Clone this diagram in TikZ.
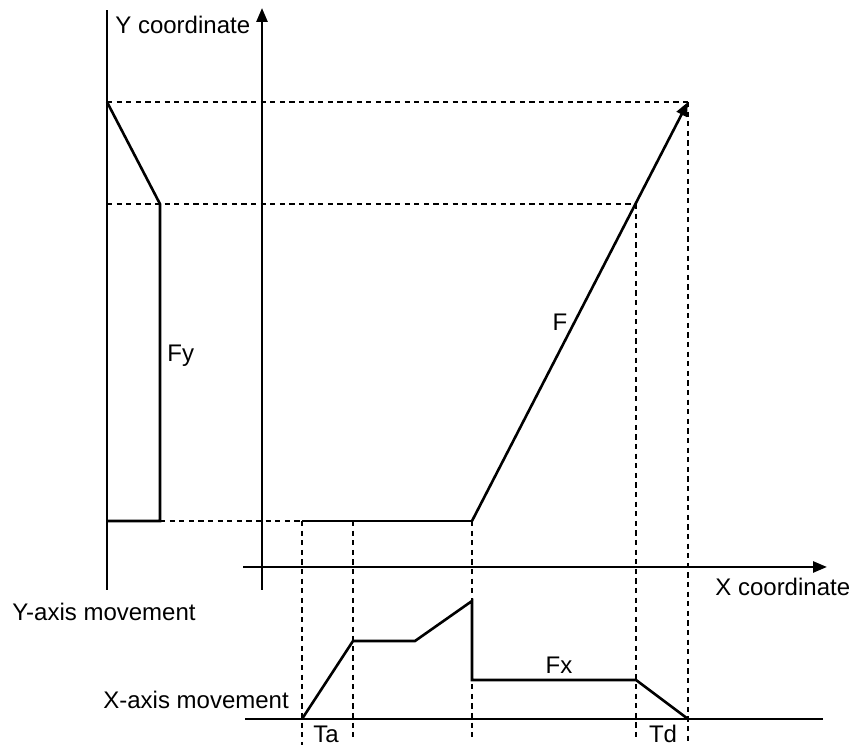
\documentclass[tikz,border=0pt]{standalone}
\usepackage{fontspec}
\setmainfont{Liberation Sans}
\usepackage{tikz}
\usetikzlibrary{arrows.meta}
\tikzset{
  axis/.style={line width=1.3pt, -{Triangle[length=7pt, width=5.5pt]}},
  plain/.style={line width=1.3pt},
  curve/.style={line width=1.3pt, line join=miter},
  guide/.style={line width=0.75pt, dash pattern=on 2.6pt off 2.2pt},
  lbl/.style={font=\fontsize{12}{14}\selectfont, inner sep=0pt}
}

\begin{document}
\begin{tikzpicture}[x=0.5pt, y=0.5pt]
  \useasboundingbox (0,0) rectangle (850,747);

  % key points
  \coordinate (tl) at (107,645);
  \coordinate (sl) at (107,543);
  \coordinate (fy1) at (160,543);
  \coordinate (fy2) at (160,226);
  \coordinate (fy0) at (107,226);
  \coordinate (s0) at (302,226);
  \coordinate (s1) at (472,226);
  \coordinate (tip) at (688,645);
  \coordinate (mid) at (636,543);

  % axes
  \draw[plain] (107,157) -- (107,737);
  \draw[axis] (262,157) -- (262,739);
  \draw[axis] (243,180) -- (827,180);
  \draw[plain] (245,28) -- (823,28);

  % guides
  \draw[guide] (tl) -- (tip);
  \draw[guide] (sl) -- (mid);
  \draw[guide] (fy2) -- (s0);
  \draw[guide] (s0) -- (302,2);
  \draw[guide] (353,226) -- (353,8);
  \draw[guide] (s1) -- (472,8);
  \draw[guide] (mid) -- (636,6);
  \draw[guide] (tip) -- (688,6);

  % Y profile
  \draw[curve] (tl) -- (fy1) -- (fy2) -- (fy0);

  % feed path
  \draw[plain] (s0) -- (s1);
  \draw[axis] (s1) -- (tip);

  % X profile
  \draw[curve] (302,28) -- (353,106) -- (415,106) -- (472,146)
    -- (472,67) -- (636,67) -- (688,28);

  % labels
  \node[lbl, anchor=west] (ycoord) at (115,722) {Y coordinate};
  \node[lbl, anchor=west] (xcoord) at (715,160) {X coordinate};
  \node[lbl, anchor=west] (ymove) at (12,135) {Y-axis movement};
  \node[lbl, anchor=west] (xmove) at (103,47) {X-axis movement};
  \node[lbl, anchor=west] (fy) at (167,391) {Fy};
  \node[lbl] (f) at (560,425) {F};
  \node[lbl] (fx) at (559,82) {Fx};
  \node[lbl] (ta) at (326,13) {Ta};
  \node[lbl] (td) at (663,13) {Td};
\end{tikzpicture}
\end{document}
